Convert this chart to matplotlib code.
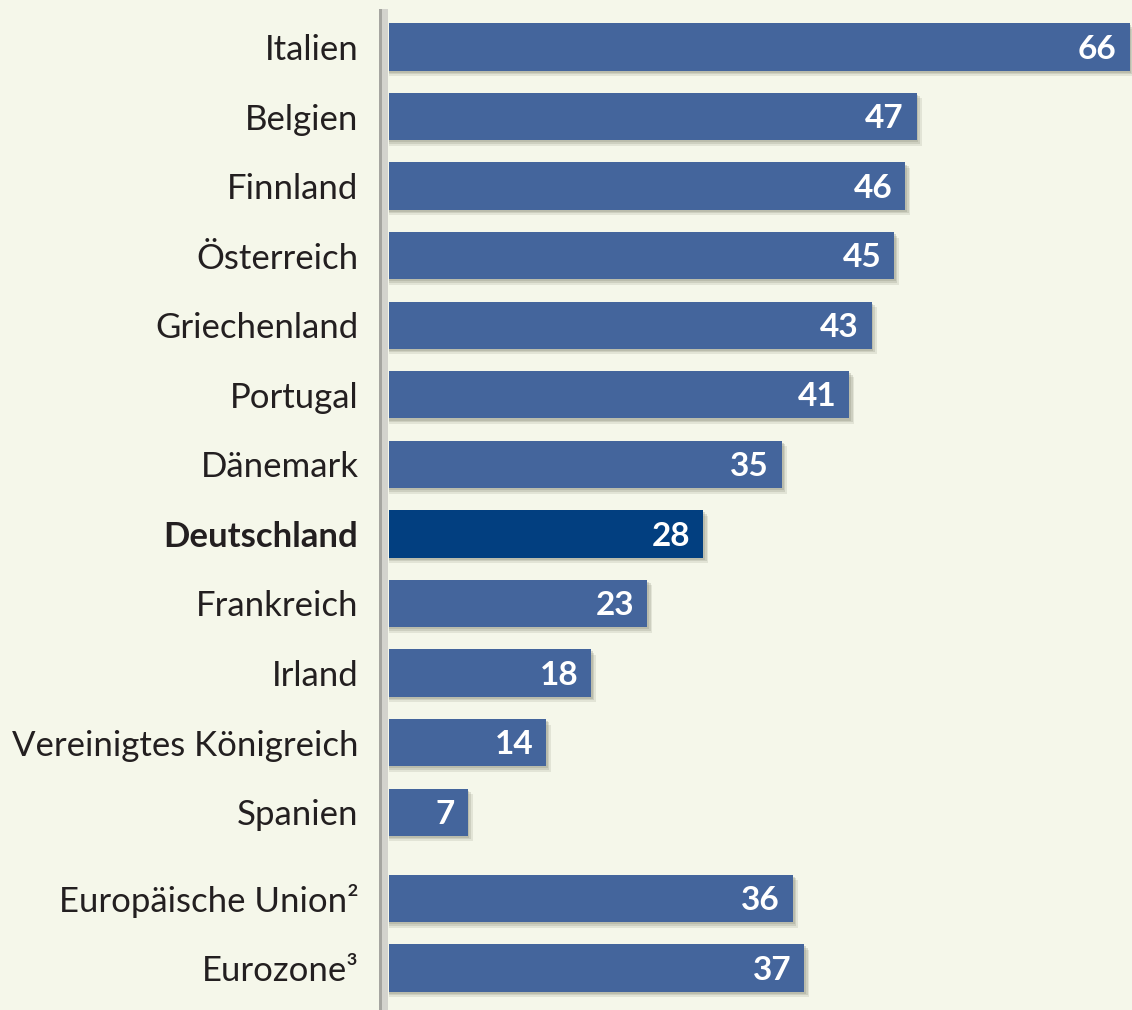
import matplotlib.pyplot as plt
from matplotlib.patches import Rectangle

countries = ['Italien', 'Belgien', 'Finnland', 'Österreich', 'Griechenland', 'Portugal',
             'Dänemark', 'Deutschland', 'Frankreich', 'Irland', 'Vereinigtes Königreich',
             'Spanien', 'Europäische Union²', 'Eurozone³']
values = [66, 47, 46, 45, 43, 41, 35, 28, 23, 18, 14, 7, 36, 37]
highlight = 'Deutschland'

bg = '#F5F7EA'
bar_color = '#44659C'
hl_color = '#023F80'

plt.rcParams['font.family'] = ['Open Sans', 'DejaVu Sans']
label_font = ['Lato', 'DejaVu Sans']

# positions: small gap before the two aggregate rows
pos = [i if i < 12 else i + 0.24 for i in range(len(countries))]

fig = plt.figure(figsize=(11.32, 10.1), dpi=100, facecolor=bg)
ax = fig.add_axes([389 / 1132, 0, 1 - 389 / 1132, 1])
ax.set_facecolor(bg)

h = 0.68
colors = [hl_color if c == highlight else bar_color for c in countries]

# soft drop shadow
for dx, dy, a in [(0.45, 0.08, 0.18), (0.3, 0.05, 0.25), (0.15, 0.03, 0.3)]:
    ax.barh([p + dy for p in pos], [v + dx for v in values], height=h,
            color='#8f9180', alpha=a, linewidth=0, zorder=1)
ax.barh(pos, values, height=h, color=colors, linewidth=0, zorder=2)

for p, v in zip(pos, values):
    ax.text(v - 1.15, p + 0.03, str(v), ha='right', va='center', color='white',
            fontsize=24, fontweight='bold', family=label_font, zorder=3)

ax.set_xlim(0, 66.2)
ax.set_ylim(13.24 + 42 / 69.56, -47 / 69.56)
ax.set_yticks(pos)
ax.set_yticklabels(countries, fontsize=25, color='#231f20', family=label_font)
for lbl in ax.get_yticklabels():
    if lbl.get_text() == highlight:
        lbl.set_fontweight('bold')
ax.tick_params(axis='y', length=0, pad=22)
ax.tick_params(axis='x', bottom=False, labelbottom=False)
for s in ax.spines.values():
    s.set_visible(False)

# grey vertical axis bar
fig.patches.append(Rectangle((379 / 1132, 0), 9 / 1132, 1 - 9 / 1010,
                             transform=fig.transFigure, facecolor='#d3d3cd',
                             edgecolor='none', zorder=5))
fig.patches.append(Rectangle((379 / 1132, 0), 3 / 1132, 1 - 9 / 1010,
                             transform=fig.transFigure, facecolor='#a5a5a0',
                             edgecolor='none', zorder=6))

fig.savefig('out.png', dpi=100, facecolor=bg)
